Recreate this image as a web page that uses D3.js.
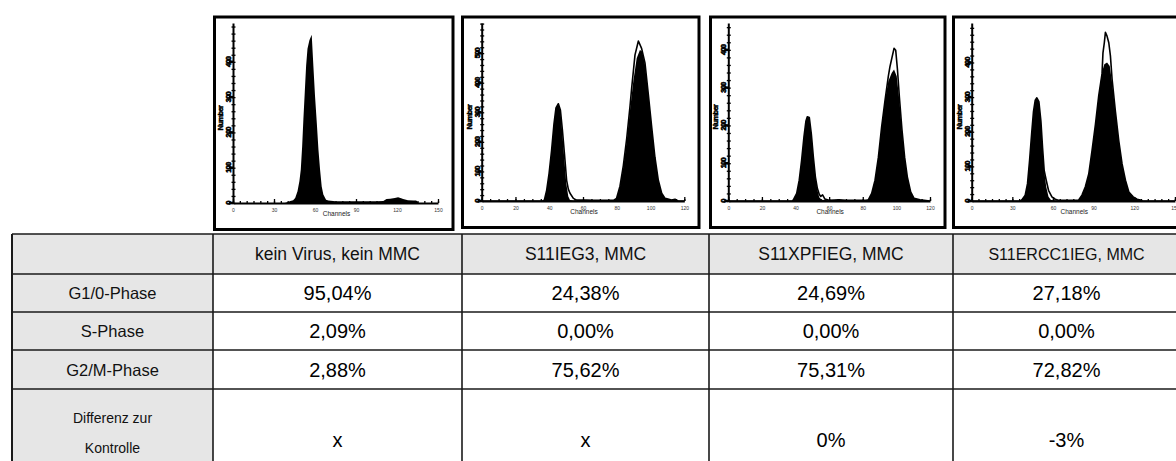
<!DOCTYPE html>
<html>
<head>
<meta charset="utf-8">
<script src="https://cdnjs.cloudflare.com/ajax/libs/d3/7.8.5/d3.min.js"></script>
<style>
  html, body { margin: 0; padding: 0; background: #fff; overflow: hidden; }
  svg { display: block; }
</style>
</head>
<body>
<svg id="chart" width="1176" height="461"></svg>
<script>
// ---------- Table content ----------
const sampleNames = ["kein Virus, kein MMC", "S11IEG3, MMC", "S11XPFIEG, MMC", "S11ERCC1IEG, MMC"];
const phaseLabels = ["G1/0-Phase", "S-Phase", "G2/M-Phase"];
const diffLabel = ["Differenz zur", "Kontrolle"];
const g1Values = [95.04, 24.38, 24.69, 27.18];
const sValues = [2.09, 0.00, 0.00, 0.00];
const g2mValues = [2.88, 75.62, 75.31, 72.82];
const diffValues = [null, null, 0, -3];   // null = no comparison ("x")

// ---------- DNA histograms (channel, count) ----------
const xMaxes = [150, 120, 120, 150];
const xMajorTicks = [
  [0, 30, 60, 90, 120, 150],
  [0, 20, 40, 60, 80, 100, 120],
  [0, 20, 40, 60, 80, 100, 120],
  [0, 30, 60, 90, 120, 150]
];
const yMajorTicks = [
  [0, 100, 200, 300, 400],
  [0, 100, 200, 300, 400, 500],
  [0, 100, 200, 300, 400],
  [0, 100, 200, 300, 400]
];

const histFilled1 = [[0,0],[38,0],[40,3],[42,6],[44,8],[45.5,14],[47.2,33],[48.6,62],[49.6,95],[50.6,161],[51.5,237],[52.5,313],[53.5,389],[54.5,437],[55.9,461],[57.6,477],[58.8,389],[60,304],[61.3,228],[62.5,152],[63.7,95],[64.9,47],[66.1,24],[68.1,9],[69.8,7],[75,5],[85,5],[95,5],[105,5],[110,6],[112.3,11],[115,12],[118.4,14],[120.8,16],[122.5,14],[124.5,11],[128,8],[132,7],[134,7],[135.5,2],[136,0],[150,0]];

const histFilled2 = [[0,0],[36,0],[37.1,3],[38.5,37],[39.9,93],[41.4,171],[42.8,260],[44,315],[45.4,329],[46.6,305],[47.8,227],[49,137],[50.1,59],[51.3,15],[52.3,3],[56,2],[62,3],[66,2],[72,2],[78,2],[79.9,9],[81.9,48],[83.9,115],[85.9,204],[87.8,305],[89.8,405],[91.8,483],[93.7,511],[95.1,506],[96.7,461],[98.7,360],[100.7,249],[102.6,148],[104.6,70],[106.6,26],[108.6,9],[112.5,3],[114.5,6],[116.4,0],[120,0]];
const histOutline2 = [[0,0],[36,0],[37.1,3],[38.5,37],[39.9,93],[41.4,171],[42.8,260],[44,315],[45.4,329],[46.6,308],[47.8,240],[49,160],[50.3,70],[51.3,40],[52.3,26],[54.3,9],[56.2,3],[62,3],[66,2],[72,2],[78,2],[79.9,9],[81.9,50],[83.9,120],[85.9,212],[87.8,318],[88.8,380],[90.8,494],[92.8,541],[94.7,516],[96.7,467],[98.7,360],[100.7,249],[102.6,148],[104.6,70],[106.6,26],[108.6,9],[112.5,3],[114.5,6],[116.4,0],[120,0]];

const histFilled3 = [[0,0],[38,0],[38.7,3],[40.7,20],[42.2,55],[43.6,107],[45,169],[46.2,212],[47,223],[48.2,221],[49.4,177],[50.6,116],[51.8,64],[53,29],[54.1,10],[55.5,3],[60,2],[66,3],[70,2],[76,2],[82,2],[83.3,3],[85.3,20],[87.3,55],[89.3,116],[91.2,195],[93.2,265],[95.2,317],[97.2,339],[98.6,348],[100.2,330],[101.8,265],[103.3,186],[104.9,116],[106.5,64],[108.5,24],[110.5,7],[114,3],[120,0]];
const histOutline3 = [[0,0],[38,0],[38.7,3],[40.7,20],[42.2,55],[43.6,107],[45,169],[46.2,212],[47,223],[48.2,221],[49.4,177],[50.6,116],[51.8,64],[53,33],[54.1,18],[55,12],[56.1,16],[57.5,5],[60,2],[66,3],[70,2],[76,2],[82,2],[83.3,3],[85.3,20],[87.3,55],[89.3,116],[91.2,195],[93.2,265],[95.2,330],[96.2,356],[97.4,380],[98.6,404],[99.6,399],[100.6,350],[101.8,274],[103.3,190],[104.9,116],[106.5,64],[108.5,24],[110.5,7],[114,3],[120,0]];

const histFilled4 = [[0,0],[36,0],[37,3],[39.5,17],[41.2,50],[42.7,116],[44.2,192],[45.6,258],[46.9,291],[48.1,298],[49.6,287],[51.1,230],[52.3,154],[53.5,88],[55,41],[56.7,12],[58.5,3],[62,2],[68,2],[74,2],[79,3],[81.4,17],[83.9,41],[86.4,78],[88.8,145],[91.3,220],[93.8,305],[96.2,372],[97.9,395],[99.9,400],[101.9,390],[103.6,343],[106.1,258],[108.6,173],[111,107],[113.5,60],[116,26],[119.2,12],[122.1,5],[124.6,3],[126,0],[150,0]];
const histOutline4 = [[0,0],[36,0],[37,3],[39.5,17],[41.2,50],[42.7,116],[44.2,192],[45.6,258],[46.9,291],[48.1,298],[49.6,287],[51.1,230],[52.3,154],[53.5,88],[55,60],[56.7,31],[59.2,12],[61.7,5],[64,2],[68,2],[74,2],[79,3],[81.4,17],[83.9,41],[86.4,78],[88.8,145],[91.3,220],[93.8,305],[96.2,367],[96.9,428],[97.9,457],[98.7,487],[99.9,476],[101.2,457],[102.4,419],[103.6,353],[106.1,258],[108.6,173],[111,107],[113.5,60],[116,26],[119.2,12],[122.1,5],[124.6,3],[126,0],[150,0]];

const histFilled = [histFilled1, histFilled2, histFilled3, histFilled4];
const histOutline = [null, histOutline2, histOutline3, histOutline4];

// ---------- Layout ----------
const FONT = "'Liberation Sans', Arial, Helvetica, sans-serif";
const svg = d3.select("#chart");

const panels = [
  { frame: [214.5, 17, 238.5, 212.5], x0: 233, x1: 438, yBase: 203, yTop: 23, yMax: 510 },
  { frame: [462.5, 17, 236.5, 210.5], x0: 481.7, x1: 684.3, yBase: 201, yTop: 23, yMax: 602 },
  { frame: [710.5, 17, 234.5, 210.5], x0: 728.3, x1: 930, yBase: 201, yTop: 23, yMax: 471 },
  { frame: [953.5, 17, 240, 210.5], x0: 971.7, x1: 1174.9, yBase: 201, yTop: 23, yMax: 514 }
];

panels.forEach((p, i) => {
  const g = svg.append("g");
  // frame
  g.append("rect")
    .attr("x", p.frame[0]).attr("y", p.frame[1])
    .attr("width", p.frame[2]).attr("height", p.frame[3])
    .attr("fill", "#fff").attr("stroke", "#000").attr("stroke-width", 3);

  const x = d3.scaleLinear().domain([0, xMaxes[i]]).range([p.x0, p.x1]);
  const y = d3.scaleLinear().domain([0, p.yMax]).range([p.yBase, p.yTop]);

  // filled histogram
  const area = d3.area().x(d => x(d[0])).y0(y(0)).y1(d => y(d[1])).curve(d3.curveLinear);
  g.append("path").datum(histFilled[i]).attr("d", area).attr("fill", "#000");

  // overlay histogram outline
  if (histOutline[i]) {
    const line = d3.line().x(d => x(d[0])).y(d => y(d[1])).curve(d3.curveLinear);
    g.append("path").datum(histOutline[i]).attr("d", line)
      .attr("fill", "none").attr("stroke", "#000").attr("stroke-width", 1.6)
      .attr("stroke-linejoin", "round");
  }

  // x axis: minor ticks every 5 channels, pointing up
  const minor = d3.range(0, xMaxes[i] + 0.001, 5);
  const xMinorAxis = d3.axisBottom(x).tickValues(minor).tickSize(-2).tickFormat("");
  const xg1 = g.append("g").attr("transform", `translate(0,${p.yBase})`).call(xMinorAxis);
  xg1.select(".domain").remove();
  xg1.selectAll(".tick line").attr("stroke", "#000").attr("stroke-width", 1.3);

  const xAxis = d3.axisBottom(x).tickValues(xMajorTicks[i]).tickSize(-4).tickSizeOuter(0);
  const xg = g.append("g").attr("transform", `translate(0,${p.yBase})`).call(xAxis);
  xg.select(".domain").attr("stroke", "#000").attr("stroke-width", 2);
  xg.selectAll(".tick line").attr("stroke", "#000").attr("stroke-width", 1.3);
  xg.selectAll(".tick text")
    .attr("font-family", FONT).attr("font-size", 5).attr("fill", "#333").attr("y", 5.5);

  g.append("text")
    .attr("x", (p.x0 + p.x1) / 2 + 1).attr("y", p.yBase + 12.5)
    .attr("text-anchor", "middle").attr("font-family", FONT)
    .attr("font-size", 6.5).attr("fill", "#222").text("Channels");

  // y axis: minor ticks every 20 counts
  const yMinor = d3.range(0, p.yMax, 20);
  const yAxis = d3.axisLeft(y).tickValues(yMinor).tickSize(-2.5).tickFormat("").tickSizeOuter(0);
  const yg = g.append("g").attr("transform", `translate(${p.x0},0)`).call(yAxis);
  yg.select(".domain").attr("stroke", "#000").attr("stroke-width", 2);
  yg.selectAll(".tick line").attr("stroke", "#000").attr("stroke-width", 1.3)
    .attr("x1", -1.5);

  // major ticks with small, heavy labels
  yMajorTicks[i].forEach(v => {
    g.append("line")
      .attr("x1", p.x0 - 4).attr("x2", p.x0)
      .attr("y1", y(v)).attr("y2", y(v))
      .attr("stroke", "#000").attr("stroke-width", 2.5);
    g.append("text")
      .attr("transform", `translate(${p.x0 - 2},${y(v)}) rotate(-90)`)
      .attr("text-anchor", "middle")
      .attr("font-family", FONT).attr("font-weight", "bold")
      .attr("font-size", 7.5).attr("fill", "#000")
      .attr("stroke", "#000").attr("stroke-width", 0.6)
      .attr("letter-spacing", -0.8)
      .text(v);
  });

  g.append("text")
    .attr("transform", `translate(${p.x0 - 10},${(p.yBase + p.yTop) / 2 + 5}) rotate(-90)`)
    .attr("text-anchor", "middle")
    .attr("font-family", FONT).attr("font-weight", "bold")
    .attr("font-size", 7.5).attr("fill", "#000")
    .attr("stroke", "#000").attr("stroke-width", 0.5)
    .attr("letter-spacing", -0.6)
    .text("Number");
});

// ---------- Table ----------
const colEdges = [12, 213, 462, 709, 953, 1180];
const rowEdges = [234, 274, 312, 350, 389, 500];
const GREY = "#e6e6e6";
const LINE = "#1a1a1a";

const tg = svg.append("g");
// grey header row and first column
tg.append("rect").attr("x", colEdges[0]).attr("y", rowEdges[0])
  .attr("width", colEdges[5] - colEdges[0]).attr("height", rowEdges[1] - rowEdges[0])
  .attr("fill", GREY);
tg.append("rect").attr("x", colEdges[0]).attr("y", rowEdges[0])
  .attr("width", colEdges[1] - colEdges[0]).attr("height", rowEdges[5] - rowEdges[0])
  .attr("fill", GREY);

// grid lines
rowEdges.slice(0, 5).forEach(yv => {
  tg.append("line").attr("x1", colEdges[0]).attr("x2", colEdges[5])
    .attr("y1", yv).attr("y2", yv).attr("stroke", LINE).attr("stroke-width", 1.6);
});
colEdges.slice(0, 5).forEach((xv, k) => {
  tg.append("line").attr("x1", xv).attr("x2", xv)
    .attr("y1", rowEdges[0]).attr("y2", rowEdges[5])
    .attr("stroke", LINE).attr("stroke-width", k === 0 ? 2 : 1.6);
});

const colCenter = k => (colEdges[k] + colEdges[k + 1]) / 2;
const rowCenter = r => (rowEdges[r] + rowEdges[r + 1]) / 2;
const fmt = v => v.toFixed(2).replace(".", ",") + "%";

function cellText(xc, yc, txt, size, color) {
  tg.append("text").attr("x", xc).attr("y", yc)
    .attr("text-anchor", "middle").attr("dominant-baseline", "central")
    .attr("font-family", FONT).attr("font-size", size).attr("fill", color || "#000")
    .text(txt);
}

// header
sampleNames.forEach((name, k) => {
  cellText(colCenter(k + 1), rowCenter(0), name, k === 3 ? 16 : 17.5, "#111");
});

// phase rows
const phaseValues = [g1Values, sValues, g2mValues];
phaseLabels.forEach((lab, r) => {
  cellText(colCenter(0), rowCenter(r + 1), lab, 16.5, "#111");
  phaseValues[r].forEach((v, k) => cellText(colCenter(k + 1), rowCenter(r + 1), fmt(v), 20));
});

// difference row
cellText(colCenter(0), 418, diffLabel[0], 14, "#111");
cellText(colCenter(0), 448, diffLabel[1], 14, "#111");
diffValues.forEach((v, k) => {
  cellText(colCenter(k + 1), 440, v === null ? "x" : v + "%", 20);
});
</script>
</body>
</html>
